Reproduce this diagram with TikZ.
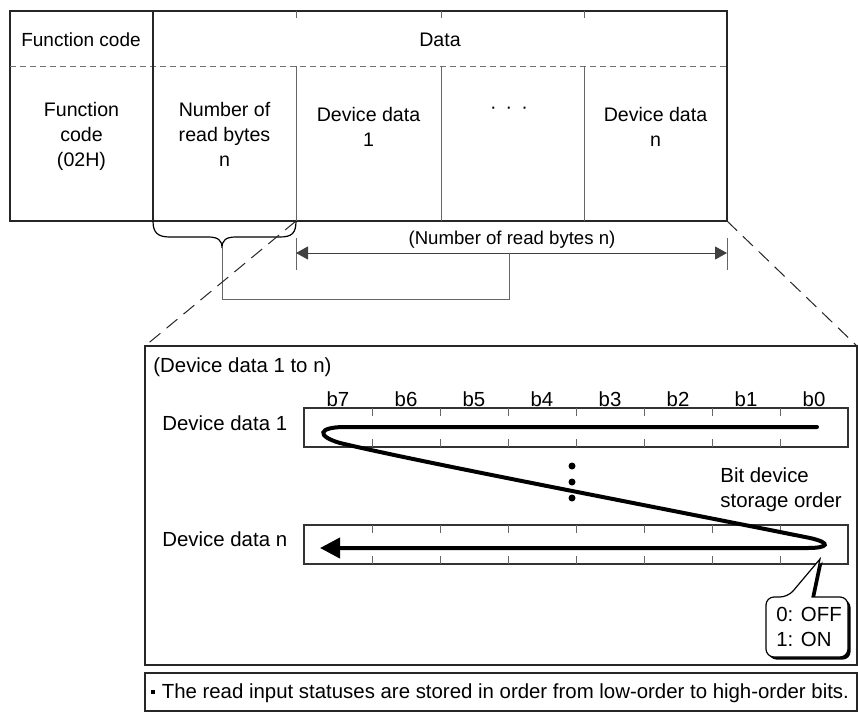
\documentclass[tikz,border=0pt]{standalone}
\usepackage{fontspec}
\setmainfont{Liberation Sans}
\usepackage{tikz}
\usetikzlibrary{arrows.meta,positioning,calc,shadows}

\begin{document}
\begin{tikzpicture}[
    x=0.5pt, y=-0.5pt,
    font=\fontsize{9.8}{12.5}\selectfont,
    frame/.style={draw=black!85, line width=1pt},
    cell/.style={draw=black!60, line width=0.5pt},
    txt/.style={inner sep=0pt, align=center},
    bigtxt/.style={txt, font=\fontsize{10.2}{12.5}\selectfont},
    bitbox/.style={draw=black!80, line width=0.7pt},
    zoomline/.style={draw=black!85, line width=0.5pt, dash pattern=on 7pt off 4pt},
    order/.style={line width=2pt, line cap=round},
    dimline/.style={draw=black!75, line width=0.5pt, {Triangle[length=6pt,width=6.5pt]}-{Triangle[length=6pt,width=6.5pt]}},
    balloon/.style={draw=black, fill=white, line width=0.6pt, drop shadow={shadow xshift=1.3pt, shadow yshift=-1.3pt, fill=black, opacity=1}}
]
\useasboundingbox (0,0) rectangle (858,713);

% Message frame
\draw[frame] (10,11) rectangle (727,221);
\draw[draw=black!55, line width=0.5pt, dash pattern=on 3pt off 2pt] (10,66) -- (727,66);
\draw[frame, line width=0.6pt] (153,11) -- (153,221);
\foreach \x in {296,441,584} {
    \draw[cell] (\x,11) -- (\x,18);
    \draw[cell] (\x,66) -- (\x,221);
}

% Header texts
\node[txt, font=\fontsize{9.5}{12.5}\selectfont] (fcHead) at (81,40) {Function code};
\node[txt] (dataHead) at (440,40) {Data};

% Field texts
\node[txt, anchor=north] (fcField) at (81.5,102) {Function\\code\\(02H)};
\node[txt, anchor=north] (nbField) at (224.5,102) {Number of\\read bytes\\n};
\node[txt, anchor=north] (dev1Field) at (368.5,107) {Device data\\1};
\node[txt] (dotsField) at (509,110) {·\hspace{4.5pt}·\hspace{4.5pt}·};
\node[txt, anchor=north] (devnField) at (655.5,107) {Device data\\n};

% Brace under number of read bytes
\coordinate (braceTip) at (222,248);
\draw[line width=0.6pt] (153,221) .. controls (153,233) and (158,237) .. (170,237) -- (208,237)
    .. controls (218,237) and (222,240) .. (braceTip)
    .. controls (222,240) and (226,237) .. (236,237) -- (280,237)
    .. controls (292,237) and (296,233) .. (296,221);

% Byte count range
\coordinate (rangeL) at (296,253);
\coordinate (rangeR) at (727,253);
\coordinate (rangeLink) at (509,253);
\draw[cell] (296,238) -- (296,270);
\draw[cell] (727,238) -- (727,270);
\draw[dimline] (rangeL) -- (rangeR);
\node[txt, font=\fontsize{9.3}{12.5}\selectfont] (rangeText) at (512,240) {(Number of read bytes n)};
\draw[cell] (braceTip) -- ++(0,51) -| (rangeLink);

% Zoom lines
\coordinate (zoomTL) at (296,221);
\coordinate (zoomTR) at (727,221);
\coordinate (detailTL) at (145,346);
\coordinate (detailTR) at (857,346);
\draw[zoomline] (zoomTL) -- (detailTL);
\draw[zoomline] (zoomTR) -- (detailTR);

% Detail frame
\draw[frame] (detailTL) rectangle (857,665);
\node[bigtxt, anchor=west] (rangeTitle) at (153,367) {(Device data 1 to n)};

% Bit boxes
\node[bigtxt, anchor=west] (dev1Name) at (162,423.5) {Device data 1};
\node[bigtxt, anchor=west] (devnName) at (162,539.5) {Device data n};
\draw[bitbox] (304,408) rectangle (848,447);
\draw[bitbox] (304,525) rectangle (848,564);
\foreach \x in {372,440,...,780} {
    \draw[cell] (\x,408) -- ++(0,8);
    \draw[cell] (\x,447) -- ++(0,-8);
    \draw[cell] (\x,525) -- ++(0,8);
    \draw[cell] (\x,564) -- ++(0,-8);
}
\foreach \b [count=\k from 0] in {7,6,...,0}
    \node[bigtxt] (bit\b) at ({338+68*\k},399) {b\b};

% Storage order
\coordinate (ordStart) at (817,427);
\coordinate (ordEnd) at (320,548);
\draw[order] (ordStart) -- (345,427) .. controls (318,427) and (316,436) .. (340,443)
    .. controls (420,462) and (620,500) .. (810,538)
    .. controls (832,543) and (828,548) .. (808,548) -- (338,548);
\draw[order, -{Triangle[length=10pt,width=10pt]}] (340,548) -- (ordEnd);
\foreach \y in {466,482,498}
    \fill (572,\y) circle (3.5);
\node[bigtxt, anchor=north west, align=left] (orderText) at (720,467) {Bit device\\storage order};

% Bit value callout
\path[balloon] (766,620) [rounded corners=4pt] -- (766,597) -- (788,597) [sharp corners] -- (820,559)
    -- (812,597) [rounded corners=4pt] -- (848,597) -- (848,657) -- (766,657) -- cycle;
\node[bigtxt, anchor=north west, align=left] (bitValue) at (776,607) {0: OFF\\1: ON};

% Note
\draw[frame, line width=0.7pt] (145,673) rectangle (857,711);
\node[bigtxt, anchor=west] (noteText) at (151,693) {\raisebox{2.2pt}{\rule{1.7pt}{1.7pt}}\hspace{3.5pt}The read input statuses are stored in order from low-order to high-order bits.};

\end{tikzpicture}
\end{document}
